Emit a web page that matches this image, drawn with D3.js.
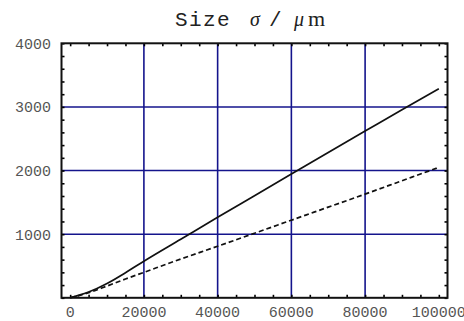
<!DOCTYPE html>
<html>
<head>
<meta charset="utf-8">
<script src="https://cdn.jsdelivr.net/npm/d3@7"></script>
<style>
  body { margin: 0; background: #fff; }
  svg { display: block; }
  .tick-label { font-family: "Liberation Mono", "Courier New", monospace; font-size: 15px; fill: #555; }
  .title { font-size: 21px; fill: #222; }
</style>
</head>
<body>
<div class="plot"></div>
<script>
// data
let sizeX = [0, 5000, 10000, 15000, 20000, 30000, 40000, 50000, 60000, 70000, 80000, 90000, 100000];
let sizeSolid = [0, 90, 225, 395, 575, 920, 1265, 1605, 1945, 2285, 2620, 2955, 3285];
let sizeDashed = [0, 80, 185, 295, 400, 610, 810, 1015, 1220, 1425, 1630, 1840, 2050];

let xTickLabels = [0, 20000, 40000, 60000, 80000, 100000];
let yTickLabels = [1000, 2000, 3000, 4000];
let xGridValues = [20000, 40000, 60000, 80000];
let yGridValues = [1000, 2000, 3000];

let width = 464, height = 321;
let plotLeft = 61.5, plotRight = 447.5, plotTop = 43.3, plotBottom = 297.8;
let svg;

var xScale = d3.scaleLinear().domain([-2350, 102350]).range([plotLeft, plotRight]),
    yScale = d3.scaleLinear().domain([0, 4000]).range([plotBottom, plotTop]);

function renderGrid() {
    svg.append("g")
      .selectAll("line")
      .data(xGridValues)
      .enter().append("line")
      .attr("x1", d => xScale(d)).attr("x2", d => xScale(d))
      .attr("y1", plotTop).attr("y2", plotBottom)
      .attr("stroke", "#14148c")
      .attr("stroke-width", 1.6);

    svg.append("g")
      .selectAll("line")
      .data(yGridValues)
      .enter().append("line")
      .attr("x1", plotLeft).attr("x2", plotRight)
      .attr("y1", d => yScale(d)).attr("y2", d => yScale(d))
      .attr("stroke", "#14148c")
      .attr("stroke-width", 1.6);
}

function renderMinorTicks() {
    // small ticks on all four sides, pointing inward
    let xMinor = d3.range(0, 100001, 5000),
        yMinor = d3.range(0, 4001, 200);

    let axes = [
      [d3.axisBottom(xScale).tickValues(xMinor), "translate(0," + plotBottom + ")"],
      [d3.axisTop(xScale).tickValues(xMinor), "translate(0," + plotTop + ")"],
      [d3.axisLeft(yScale).tickValues(yMinor), "translate(" + plotLeft + ",0)"],
      [d3.axisRight(yScale).tickValues(yMinor), "translate(" + plotRight + ",0)"]
    ];
    axes.forEach(a => {
      let g = svg.append("g")
        .attr("transform", a[1])
        .call(a[0].tickSize(-3).tickFormat(""));
      g.select(".domain").remove();
      g.selectAll(".tick line").attr("stroke", "#000").attr("stroke-width", 1.6);
    });
}

function renderFrame() {
    svg.append("rect")
      .attr("x", plotLeft).attr("y", plotTop)
      .attr("width", plotRight - plotLeft).attr("height", plotBottom - plotTop)
      .attr("fill", "none")
      .attr("stroke", "#111")
      .attr("stroke-width", 2);
}

function renderLabels() {
    svg.append("g")
      .selectAll("text")
      .data(xTickLabels)
      .enter().append("text")
      .attr("class", "tick-label")
      .attr("x", d => xScale(d))
      .attr("y", 317)
      .attr("text-anchor", "middle")
      .text(d => d);

    svg.append("g")
      .selectAll("text")
      .data(yTickLabels)
      .enter().append("text")
      .attr("class", "tick-label")
      .attr("x", 51)
      .attr("y", d => yScale(d))
      .attr("dy", "0.36em")
      .attr("text-anchor", "end")
      .text(d => d);
}

function renderTitle() {
    let t = svg.append("text").attr("class", "title").attr("y", 26);
    let mono = '"Courier New", "Liberation Mono", monospace',
        serif = '"Liberation Serif", "DejaVu Serif", serif';
    t.append("tspan").attr("x", 175).style("font-family", mono).style("letter-spacing", "1.4px").text("Size");
    t.append("tspan").attr("x", 250).style("font-family", serif).style("font-style", "italic").style("font-size", "20px").text("σ");
    t.append("tspan").attr("x", 269).style("font-family", mono).text("/");
    t.append("tspan").attr("x", 294).style("font-family", serif).style("font-style", "italic").style("font-size", "20px").text("μ");
    t.append("tspan").attr("x", 308).style("font-family", serif).style("font-size", "22px").text("m");
}

function renderCurves() {
    var line = d3.line()
      .x(d => xScale(d[0]))
      .y(d => yScale(d[1]))
      .curve(d3.curveMonotoneX);

    svg.append("path")
      .datum(d3.zip(sizeX, sizeSolid))
      .attr("d", line)
      .attr("fill", "none")
      .attr("stroke", "#111")
      .attr("stroke-width", 1.7);

    svg.append("path")
      .datum(d3.zip(sizeX, sizeDashed))
      .attr("d", line)
      .attr("fill", "none")
      .attr("stroke", "#111")
      .attr("stroke-width", 1.7)
      .attr("stroke-dasharray", "5,3");
}

svg = d3.select(".plot")
    .append("svg")
    .attr("width", width)
    .attr("height", height);

renderGrid();
renderMinorTicks();
renderCurves();
renderFrame();
renderLabels();
renderTitle();
</script>
</body>
</html>
